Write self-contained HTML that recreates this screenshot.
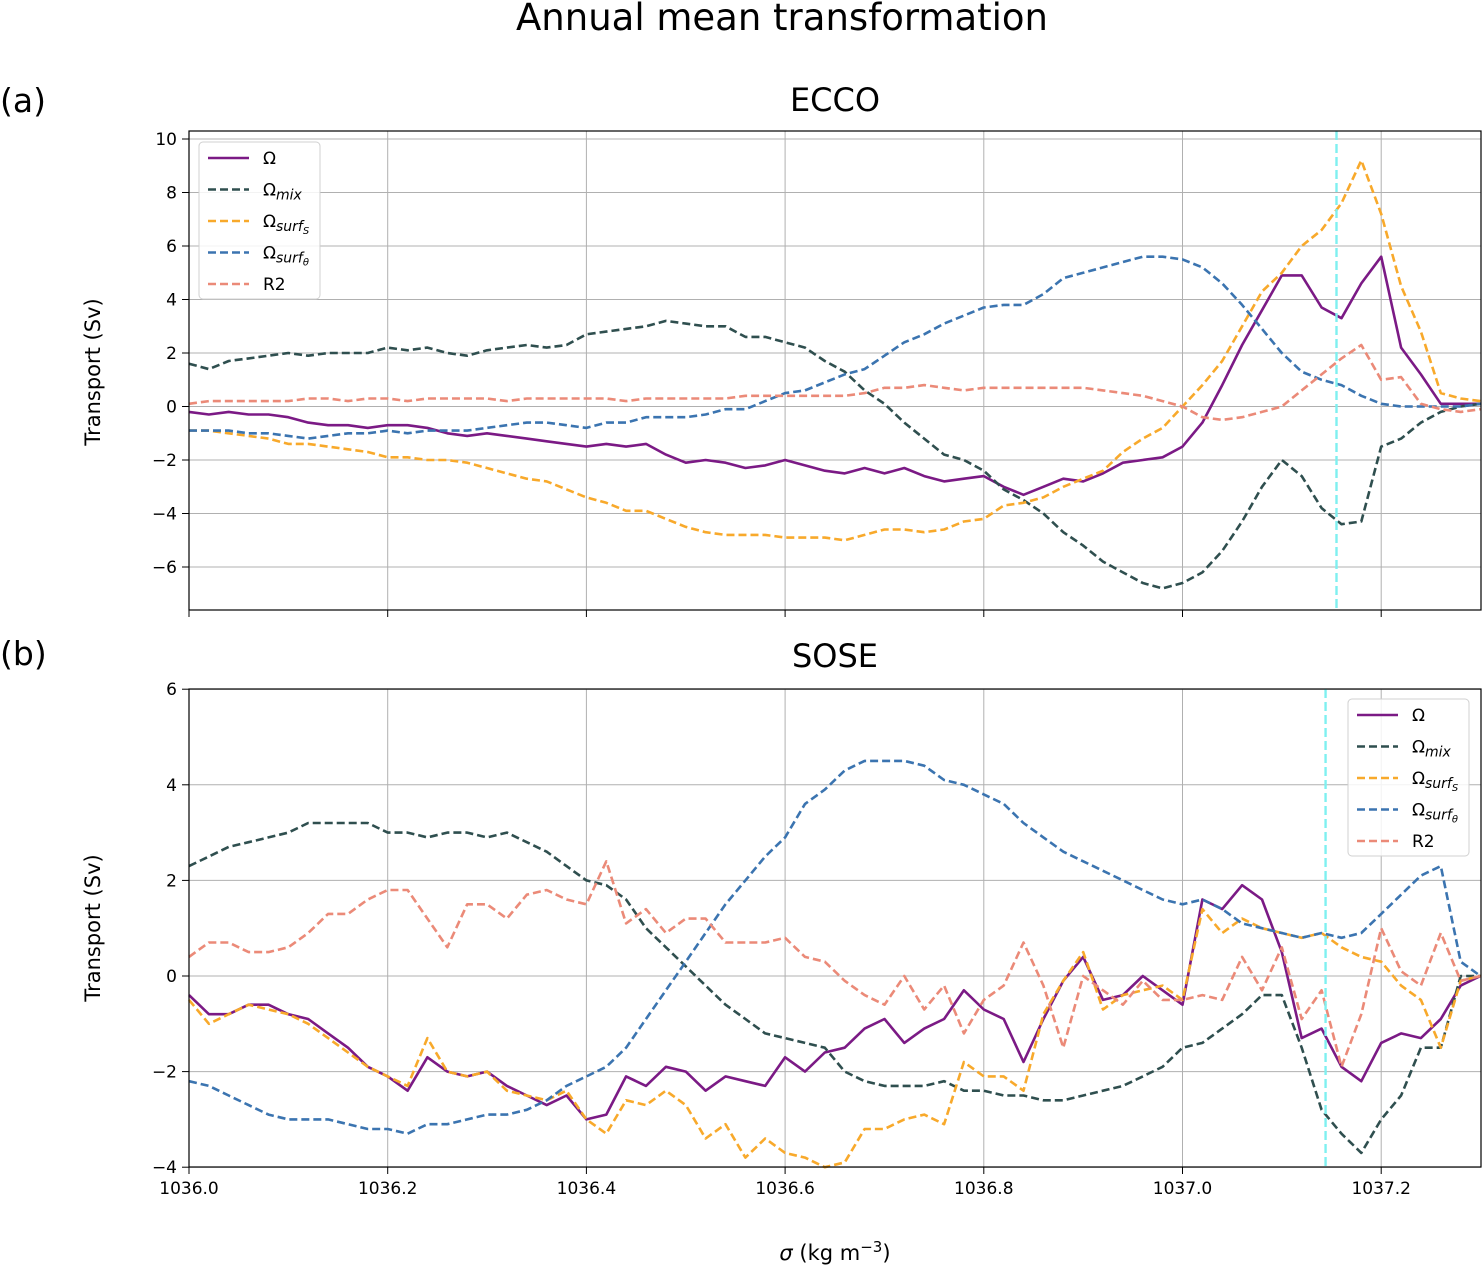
<!DOCTYPE html>
<html><head><meta charset="utf-8"><style>
html,body{margin:0;padding:0;background:#fff;}
svg{display:block;font-family:"DejaVu Sans","Liberation Sans",sans-serif;}
</style></head>
<body>
<svg id="fig" width="1482" height="1268" viewBox="0 0 1482 1268" xmlns="http://www.w3.org/2000/svg">
<text x="782" y="30" font-size="37" text-anchor="middle">Annual mean transformation</text>
<text x="0" y="112" font-size="33">(a)</text>
<text x="0" y="665" font-size="33">(b)</text>
<text x="835" y="111" font-size="32" text-anchor="middle">ECCO</text>
<text x="835" y="667" font-size="32" text-anchor="middle">SOSE</text>
<text x="0" y="0" font-size="21" text-anchor="middle" transform="translate(100,372) rotate(-90)">Transport (Sv)</text>
<text x="0" y="0" font-size="21" text-anchor="middle" transform="translate(100,928) rotate(-90)">Transport (Sv)</text>
<text x="835" y="1260" font-size="21" text-anchor="middle"><tspan font-style="italic">σ</tspan> (kg m<tspan dy="-8" font-size="15">−3</tspan><tspan dy="8">)</tspan></text>
<g id="pa"></g>
<g id="pb"></g>
</svg>
<script>
const sigma = [];
for (let i = 0; i <= 65; i++) sigma.push(1036 + i * 0.02);
const xTicks = [1036.0, 1036.2, 1036.4, 1036.6, 1036.8, 1037.0, 1037.2];
const xTickLabels = ["1036.0","1036.2","1036.4","1036.6","1036.8","1037.0","1037.2"];
const yTicksA = [-6, -4, -2, 0, 2, 4, 6, 8, 10];
const yTicksB = [-4, -2, 0, 2, 4, 6];
const cutA = 1037.155, cutB = 1037.144;

const eOmega = [-0.2,-0.3,-0.2,-0.3,-0.3,-0.4,-0.6,-0.7,-0.7,-0.8,-0.7,-0.7,-0.8,-1.0,-1.1,-1.0,-1.1,-1.2,-1.3,-1.4,-1.5,-1.4,-1.5,-1.4,-1.8,-2.1,-2.0,-2.1,-2.3,-2.2,-2.0,-2.2,-2.4,-2.5,-2.3,-2.5,-2.3,-2.6,-2.8,-2.7,-2.6,-3.0,-3.3,-3.0,-2.7,-2.8,-2.5,-2.1,-2.0,-1.9,-1.5,-0.6,0.8,2.3,3.6,4.9,4.9,3.7,3.3,4.6,5.6,2.2,1.2,0.1,0.1,0.1];
const eMix = [1.6,1.4,1.7,1.8,1.9,2.0,1.9,2.0,2.0,2.0,2.2,2.1,2.2,2.0,1.9,2.1,2.2,2.3,2.2,2.3,2.7,2.8,2.9,3.0,3.2,3.1,3.0,3.0,2.6,2.6,2.4,2.2,1.7,1.3,0.6,0.1,-0.6,-1.2,-1.8,-2.0,-2.4,-3.1,-3.5,-4.0,-4.7,-5.2,-5.8,-6.2,-6.6,-6.8,-6.6,-6.2,-5.4,-4.3,-3.0,-2.0,-2.6,-3.8,-4.4,-4.3,-1.5,-1.2,-0.6,-0.2,0.0,0.1];
const eSurfS = [-0.9,-0.9,-1.0,-1.1,-1.2,-1.4,-1.4,-1.5,-1.6,-1.7,-1.9,-1.9,-2.0,-2.0,-2.1,-2.3,-2.5,-2.7,-2.8,-3.1,-3.4,-3.6,-3.9,-3.9,-4.2,-4.5,-4.7,-4.8,-4.8,-4.8,-4.9,-4.9,-4.9,-5.0,-4.8,-4.6,-4.6,-4.7,-4.6,-4.3,-4.2,-3.7,-3.6,-3.4,-3.0,-2.7,-2.4,-1.7,-1.2,-0.8,0.0,0.8,1.7,3.0,4.3,5.0,6.0,6.6,7.6,9.2,7.2,4.5,2.8,0.5,0.3,0.2];
const eSurfT = [-0.9,-0.9,-0.9,-1.0,-1.0,-1.1,-1.2,-1.1,-1.0,-1.0,-0.9,-1.0,-0.9,-0.9,-0.9,-0.8,-0.7,-0.6,-0.6,-0.7,-0.8,-0.6,-0.6,-0.4,-0.4,-0.4,-0.3,-0.1,-0.1,0.2,0.5,0.6,0.9,1.2,1.4,1.9,2.4,2.7,3.1,3.4,3.7,3.8,3.8,4.2,4.8,5.0,5.2,5.4,5.6,5.6,5.5,5.2,4.6,3.8,2.9,2.0,1.3,1.0,0.8,0.4,0.1,0.0,0.0,0.0,0.0,0.1];
const eR2 = [0.1,0.2,0.2,0.2,0.2,0.2,0.3,0.3,0.2,0.3,0.3,0.2,0.3,0.3,0.3,0.3,0.2,0.3,0.3,0.3,0.3,0.3,0.2,0.3,0.3,0.3,0.3,0.3,0.4,0.4,0.4,0.4,0.4,0.4,0.5,0.7,0.7,0.8,0.7,0.6,0.7,0.7,0.7,0.7,0.7,0.7,0.6,0.5,0.4,0.2,0.0,-0.4,-0.5,-0.4,-0.2,0.0,0.6,1.2,1.8,2.3,1.0,1.1,0.1,-0.1,-0.2,-0.1];

const sOmega = [-0.4,-0.8,-0.8,-0.6,-0.6,-0.8,-0.9,-1.2,-1.5,-1.9,-2.1,-2.4,-1.7,-2.0,-2.1,-2.0,-2.3,-2.5,-2.7,-2.5,-3.0,-2.9,-2.1,-2.3,-1.9,-2.0,-2.4,-2.1,-2.2,-2.3,-1.7,-2.0,-1.6,-1.5,-1.1,-0.9,-1.4,-1.1,-0.9,-0.3,-0.7,-0.9,-1.8,-0.9,-0.1,0.4,-0.5,-0.4,0.0,-0.3,-0.6,1.6,1.4,1.9,1.6,0.5,-1.3,-1.1,-1.9,-2.2,-1.4,-1.2,-1.3,-0.9,-0.2,0.0];
const sMix = [2.3,2.5,2.7,2.8,2.9,3.0,3.2,3.2,3.2,3.2,3.0,3.0,2.9,3.0,3.0,2.9,3.0,2.8,2.6,2.3,2.0,1.9,1.6,1.0,0.6,0.2,-0.2,-0.6,-0.9,-1.2,-1.3,-1.4,-1.5,-2.0,-2.2,-2.3,-2.3,-2.3,-2.2,-2.4,-2.4,-2.5,-2.5,-2.6,-2.6,-2.5,-2.4,-2.3,-2.1,-1.9,-1.5,-1.4,-1.1,-0.8,-0.4,-0.4,-1.5,-2.8,-3.3,-3.7,-3.0,-2.5,-1.5,-1.5,0.0,0.0];
const sSurfS = [-0.5,-1.0,-0.8,-0.6,-0.7,-0.8,-1.0,-1.3,-1.6,-1.9,-2.1,-2.3,-1.3,-2.0,-2.1,-2.0,-2.4,-2.5,-2.6,-2.4,-3.0,-3.3,-2.6,-2.7,-2.4,-2.7,-3.4,-3.1,-3.8,-3.4,-3.7,-3.8,-4.0,-3.9,-3.2,-3.2,-3.0,-2.9,-3.1,-1.8,-2.1,-2.1,-2.4,-0.8,-0.1,0.5,-0.7,-0.4,-0.3,-0.2,-0.5,1.4,0.9,1.2,1.0,0.9,0.8,0.9,0.6,0.4,0.3,-0.2,-0.5,-1.5,-0.1,0.0];
const sSurfT = [-2.2,-2.3,-2.5,-2.7,-2.9,-3.0,-3.0,-3.0,-3.1,-3.2,-3.2,-3.3,-3.1,-3.1,-3.0,-2.9,-2.9,-2.8,-2.6,-2.3,-2.1,-1.9,-1.5,-0.9,-0.3,0.3,0.9,1.5,2.0,2.5,2.9,3.6,3.9,4.3,4.5,4.5,4.5,4.4,4.1,4.0,3.8,3.6,3.2,2.9,2.6,2.4,2.2,2.0,1.8,1.6,1.5,1.6,1.4,1.1,1.0,0.9,0.8,0.9,0.8,0.9,1.3,1.7,2.1,2.3,0.3,0.0];
const sR2 = [0.4,0.7,0.7,0.5,0.5,0.6,0.9,1.3,1.3,1.6,1.8,1.8,1.2,0.6,1.5,1.5,1.2,1.7,1.8,1.6,1.5,2.4,1.1,1.4,0.9,1.2,1.2,0.7,0.7,0.7,0.8,0.4,0.3,-0.1,-0.4,-0.6,0.0,-0.7,-0.2,-1.2,-0.5,-0.2,0.7,-0.2,-1.5,0.0,-0.3,-0.6,-0.1,-0.5,-0.5,-0.4,-0.5,0.4,-0.3,0.6,-0.9,-0.3,-1.9,-0.8,1.0,0.1,-0.2,0.9,-0.1,0.0];

const NS = "http://www.w3.org/2000/svg";
const COL = {omega:"#7b1a85", mix:"#2f4f4f", surfS:"#f8a92b", surfT:"#3b74b0", r2:"#eb8a78"};
const X0 = 189, XPU = 993.5;
function xs(v){ return X0 + (v - 1036) * XPU; }
function mk(tag, attrs, parent){ const e = document.createElementNS(NS, tag); for (const k in attrs) e.setAttribute(k, attrs[k]); parent.appendChild(e); return e; }

function panel(g, top, bottom, yZeroPx, ppu, yTicks, series, cut, showX, legendPos, prefix){
  const L = 189, R = 1481;
  const ys = v => yZeroPx - v * ppu;
  const grid = mk('g', {}, g);
  
  
  xTicks.forEach((t, i) => {
    const x = xs(t);
    if (i > 0) mk('line', {x1:x, x2:x, y1:top, y2:bottom, stroke:'#b0b0b0', 'stroke-width':1}, grid);
    mk('line', {x1:x, x2:x, y1:bottom, y2:bottom + 7, stroke:'#000', 'stroke-width':1}, g);
    if (showX) {
      const tl = mk('text', {x:x, y:bottom + 27, 'font-size':17, 'text-anchor':'middle'}, g);
      
      
      tl.textContent = xTickLabels[i];
    }
  });
  yTicks.forEach(t => {
    const y = ys(t);
    mk('line', {x1:L, x2:R, y1:y, y2:y, stroke:'#b0b0b0', 'stroke-width':1}, grid);
    mk('line', {x1:L - 7, x2:L, y1:y, y2:y, stroke:'#000', 'stroke-width':1}, g);
    const tl = mk('text', {x:L - 12, y:y + 6, 'font-size':17, 'text-anchor':'end'}, g);
    
    
    tl.textContent = (t < 0 ? '−' + (-t) : String(t));
  });
  series.forEach(s => {
    const d = s.vals.map((v, i) => (i ? 'L' : 'M') + xs(sigma[i]).toFixed(1) + ',' + ys(v).toFixed(1)).join('');
    const p = mk('path', {d:d, fill:'none', stroke:s.col, 'stroke-width':2.6, 'stroke-dasharray':s.dash ? '8,4' : 'none', 'stroke-linejoin':'round'}, g);
    
    
  });
  const cl = mk('line', {x1:xs(cut), x2:xs(cut), y1:top, y2:bottom, stroke:'#7ff0f0', 'stroke-width':2.4, 'stroke-dasharray':'9,4'}, g);
  
  
  const fr = mk('rect', {x:L, y:top, width:R - L, height:bottom - top, fill:'none', stroke:'#000', 'stroke-width':1.2}, g);
  
  
  // legend
  const lg = mk('g', {}, g);
  
  
  const [lx, ly] = legendPos;
  mk('rect', {x:lx, y:ly, width:121, height:157, rx:4, fill:'#fff', 'fill-opacity':0.85, stroke:'#d0d0d0'}, lg);
  const labels = [['Ω',''],['Ω','mix'],['Ω','surf<tspan font-size="10" dy="3">S</tspan>'],['Ω','surf<tspan font-size="10" dy="3">θ</tspan>'],['R2','']];
  series.forEach((s, i) => {
    const yy = ly + 16 + i * 31.5;
    const e = mk('g', {}, lg);
    
    
    mk('line', {x1:lx + 9, x2:lx + 50, y1:yy, y2:yy, stroke:s.col, 'stroke-width':2.6, 'stroke-dasharray':s.dash ? '8,4' : 'none'}, e);
    const t = mk('text', {x:lx + 64, y:yy + 6, 'font-size':17}, e);
    t.innerHTML = labels[i][0] + (labels[i][1] ? '<tspan font-size="14" font-style="italic" dy="4">' + labels[i][1] + '</tspan>' : '');
  });
}
const mkSeries = (o, m, ss, st, r) => [
  {key:'omega', vals:o, col:COL.omega, dash:false},
  {key:'omega-mix', vals:m, col:COL.mix, dash:true},
  {key:'omega-surf-s', vals:ss, col:COL.surfS, dash:true},
  {key:'omega-surf-theta', vals:st, col:COL.surfT, dash:true},
  {key:'r2', vals:r, col:COL.r2, dash:true}];
panel(document.getElementById('pa'), 131, 610, 406.5, 26.75, yTicksA, mkSeries(eOmega, eMix, eSurfS, eSurfT, eR2), cutA, false, [199, 142], 'ecco');
panel(document.getElementById('pb'), 689, 1167, 976, 47.8, yTicksB, mkSeries(sOmega, sMix, sSurfS, sSurfT, sR2), cutB, true, [1348, 699], 'sose');
</script>
</body></html>
